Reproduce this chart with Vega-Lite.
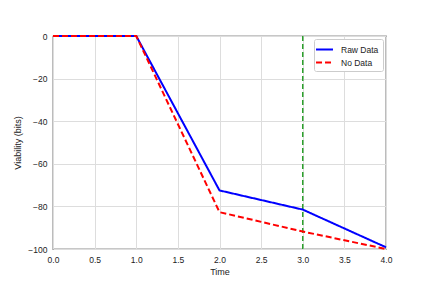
{
  "$schema": "https://vega.github.io/schema/vega-lite/v6.json",
  "width": 333,
  "height": 213,
  "autosize": {"type": "none"},
  "padding": {"left": 53, "top": 36, "right": 43, "bottom": 37},
  "config": {
    "font": "Liberation Sans",
    "view": {"stroke": "#222222", "strokeWidth": 1.2},
    "axis": {
      "labelFont": "Liberation Sans",
      "titleFont": "Liberation Sans",
      "labelFontSize": 8.5,
      "titleFontSize": 9,
      "titleFontWeight": "normal",
      "labelColor": "#222222",
      "titleColor": "#222222",
      "gridColor": "#dddddd",
      "gridWidth": 1,
      "domain": false,
      "ticks": false,
      "labelPadding": 6,
      "labelFlush": false
    }
  },
  "data": {
    "values": [
      {"t": 0, "v": 0, "s": "Raw Data"},
      {"t": 1, "v": 0, "s": "Raw Data"},
      {"t": 2, "v": -72.5, "s": "Raw Data"},
      {"t": 3, "v": -81.5, "s": "Raw Data"},
      {"t": 4, "v": -99.2, "s": "Raw Data"},
      {"t": 0, "v": 0, "s": "No Data"},
      {"t": 1, "v": 0, "s": "No Data"},
      {"t": 2, "v": -82.7, "s": "No Data"},
      {"t": 3, "v": -91.8, "s": "No Data"},
      {"t": 4, "v": -100, "s": "No Data"}
    ]
  },
  "layer": [
    {
      "mark": {"type": "rule", "color": "#2ca02c", "strokeWidth": 1.5, "strokeDash": [5, 3]},
      "data": {"values": [{"t": 3}]},
      "encoding": {"x": {"field": "t", "type": "quantitative"}}
    },
    {
      "mark": {"type": "line", "strokeWidth": 2, "clip": false},
      "encoding": {
        "x": {
          "field": "t", "type": "quantitative", "title": "Time",
          "scale": {"domain": [0, 4], "nice": false},
          "axis": {"values": [0, 0.5, 1, 1.5, 2, 2.5, 3, 3.5, 4], "format": ".1f", "titlePadding": 4}
        },
        "y": {
          "field": "v", "type": "quantitative", "title": "Viability (bits)",
          "scale": {"domain": [-100, 0], "nice": false},
          "axis": {"values": [0, -20, -40, -60, -80, -100], "titlePadding": 5}
        },
        "color": {
          "field": "s", "type": "nominal",
          "scale": {"domain": ["Raw Data", "No Data"], "range": ["#0000ff", "#ff0000"]},
          "legend": {
            "title": null, "orient": "top-right", "offset": 3,
            "symbolType": "M-1.55,0H1.55", "symbolStrokeWidth": 2, "symbolSize": 120,
            "symbolFillColor": "transparent",
            "labelFontSize": 8.5, "labelFont": "Liberation Sans", "labelColor": "#222222",
            "labelOffset": 10,
            "strokeColor": "#cccccc", "fillColor": "white", "padding": 4, "cornerRadius": 2,
            "rowPadding": 2
          }
        },
        "strokeDash": {
          "field": "s", "type": "nominal",
          "scale": {"domain": ["Raw Data", "No Data"], "range": [[1, 0], [6, 3]]},
          "legend": {"title": null}
        }
      }
    }
  ]
}
